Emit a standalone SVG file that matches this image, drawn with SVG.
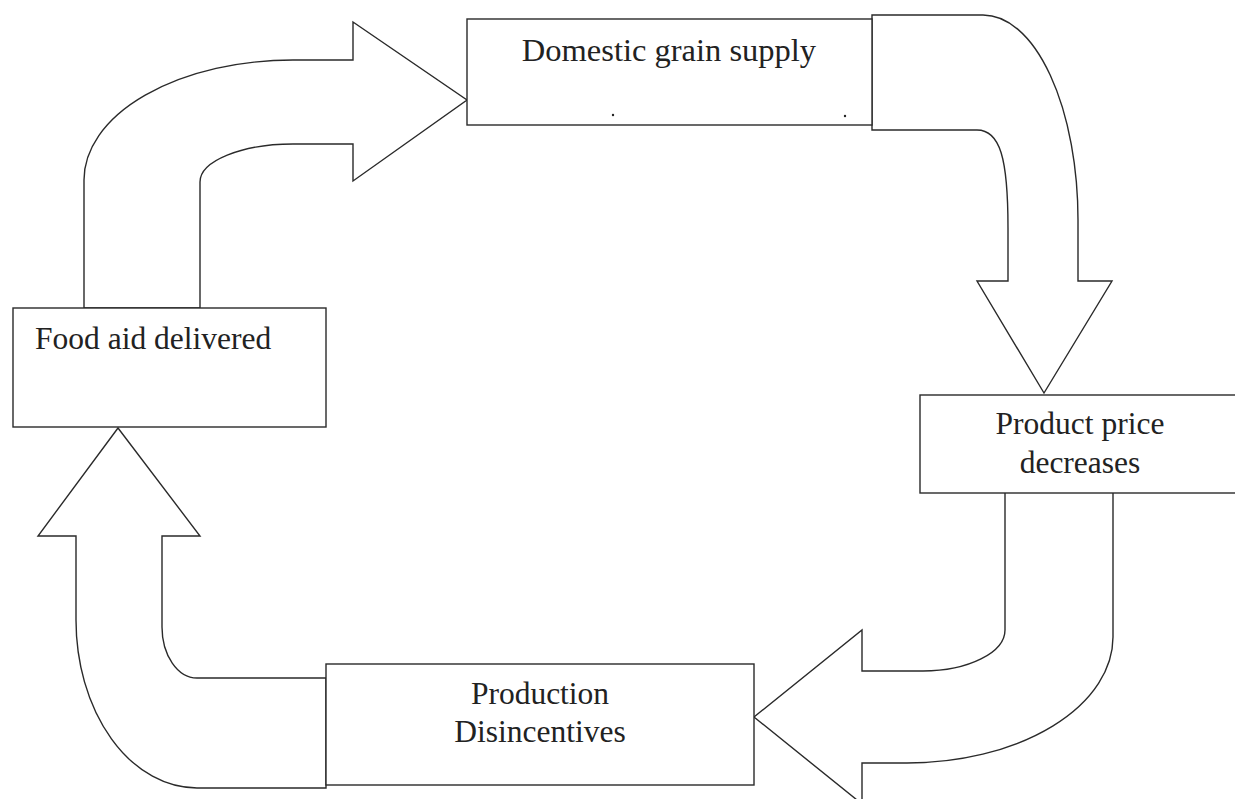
<svg xmlns="http://www.w3.org/2000/svg" width="1235" height="799" viewBox="0 0 1235 799">
<style>
.shape{fill:#fff;stroke:#2a2a2a;stroke-width:1.4;stroke-linejoin:miter}
.box{fill:#fff;stroke:#2a2a2a;stroke-width:1.4}
.lbl{font-family:"Liberation Serif","Times New Roman",serif;font-size:31.5px;fill:#222}
</style>
<rect width="1235" height="799" fill="#fff"/>
<g id="connectors">
<path class="shape" d="M 84 308 L 84 180 A 209 120 0 0 1 293 60 L 353 60 L 353 22 L 467 100 L 353 181 L 353 144 L 293 144 A 93 38 0 0 0 200 182 L 200 308 Z"/>
<path class="shape" d="M 872 15 L 983 15 A 95 205 0 0 1 1078 220 L 1078 281 L 1112 281 L 1044 393 L 977 281 L 1008 281 L 1008 228 C 1008 158 1000 130 977 130 L 872 130 Z"/>
<path class="shape" d="M 1005 491 L 1113 491 L 1113 637 A 206 126 0 0 1 907 763 L 862 763 L 862 804 L 754 717 L 862 630 L 862 671 L 923 671 A 82 41 0 0 0 1005 630 Z"/>
<path class="shape" d="M 326 788 L 197 788 A 121 168 0 0 1 76 620 L 76 536 L 38 536 L 118 428 L 200 536 L 162 536 L 162 627 A 35 51 0 0 0 197 678 L 326 678 Z"/>
</g>
<g id="node-domestic">
<rect class="box" x="467" y="19" width="405" height="106"/>
<text class="lbl" x="669" y="61" text-anchor="middle" style="font-size:32.5px">Domestic grain supply</text>
<circle cx="613" cy="115" r="1.2" fill="#222"/>
<circle cx="845" cy="116" r="1.2" fill="#222"/>
</g>
<g id="node-price">
<rect class="box" x="920" y="395" width="330" height="98"/>
<text class="lbl" x="1080" y="434" text-anchor="middle">Product price</text>
<text class="lbl" x="1080" y="473" text-anchor="middle">decreases</text>
</g>
<g id="node-production">
<rect class="box" x="326" y="664" width="428" height="121"/>
<text class="lbl" x="540" y="704" text-anchor="middle">Production</text>
<text class="lbl" x="540" y="742" text-anchor="middle">Disincentives</text>
</g>
<g id="node-foodaid">
<rect class="box" x="13" y="308" width="313" height="119"/>
<text class="lbl" x="35" y="349">Food aid delivered</text>
</g>
</svg>
